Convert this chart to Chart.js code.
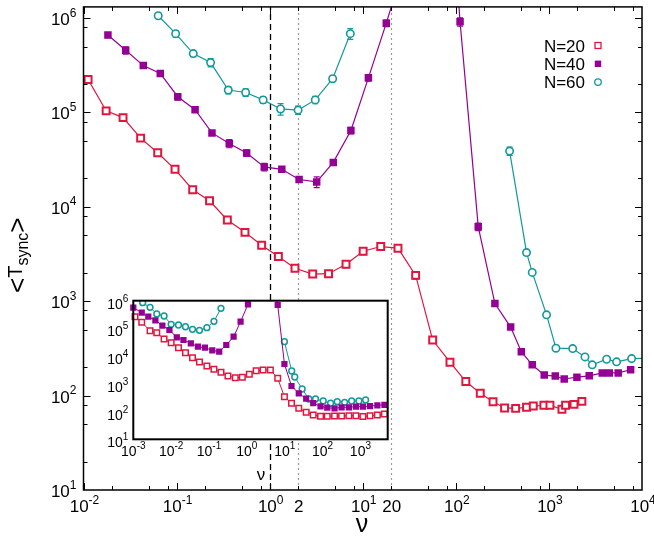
<!DOCTYPE html>
<html>
<head>
<meta charset="utf-8">
<script src="https://cdn.jsdelivr.net/npm/chart.js@4/dist/chart.umd.min.js"></script>
<style>
  html, body { margin: 0; padding: 0; background: #fff; }
  #wrap { position: relative; width: 654px; height: 541px; }
  #wrap canvas { position: absolute; left: 0; top: 0; }
</style>
</head>
<body>
<div id="wrap">
  <canvas id="main" width="654" height="541"></canvas>
  <canvas id="inset" width="654" height="541"></canvas>
</div>
<script>
// ---- main panel data: nu and <T_sync> per system size ----
const nu20 = [0.0112, 0.0175, 0.0266, 0.0411, 0.0627, 0.0962, 0.149, 0.226, 0.351, 0.543, 0.82, 1.24, 1.87, 2.9, 4.29,
  6.61, 10.1, 15.6, 23.9, 37.0, 56.4, 86.5, 128, 183, 251, 334, 439, 575, 679, 883, 1026, 1380, 1510, 1860, 2260];
const t20 = [2.24e5, 1.04e5, 8.83e4, 5.35e4, 3.74e4, 2.50e4, 1.52e4, 1.16e4, 7260, 5370, 3920, 2980, 2240, 1940, 1960,
  2470, 3390, 3800, 3650, 1880, 388, 226, 141, 106, 86.3, 74.0, 73.3, 75.2, 77.6, 78.9, 78.9, 71.6, 78.9, 80.8, 86.9];
const err20 = [0.05, 0.05, 0.05, 0.05, 0.05, 0.05, 0.05, 0.05, 0.05, 0.05, 0.05, 0.05, 0.06, 0.05, 0.05,
  0.08, 0.08, 0.07, 0.07, 0.09, 0.06, 0.05, 0.04, 0.04, 0.04, 0.04, 0.04, 0.04, 0.04, 0.04, 0.04, 0.04, 0.04, 0.04, 0.04];

const nu40 = [0.0183, 0.0284, 0.0439, 0.0668, 0.103, 0.158, 0.240, 0.368, 0.566, 0.875, 1.35, 2.07, 3.20, 4.82, 7.46, 11.5, 17.9, 27.5,
  85, 111, 174, 263, 388, 505, 662, 891, 1170, 1460, 2000, 2710, 3740, 4450, 5550, 7550];
const t40 = [6.62e5, 4.56e5, 3.14e5, 2.59e5, 1.47e5, 1.07e5, 6.08e4, 4.70e4, 3.72e4, 2.65e4, 2.50e4, 1.95e4, 1.84e4, 2.96e4, 6.44e4, 2.33e5, 8.85e5, 3.5e6,
  4e7, 9.14e5, 6170, 946, 532, 292, 212, 165, 161, 150, 157, 162, 174, 174, 174, 188];
const err40 = [0.06, 0.09, 0.06, 0.07, 0.08, 0.06, 0.05, 0.10, 0.08, 0.09, 0.07, 0.07, 0.13, 0.07, 0.08, 0.08, 0.08, 0,
  0, 0.10, 0.09, 0.05, 0.04, 0.04, 0.04, 0.04, 0.03, 0.03, 0.03, 0.03, 0.03, 0.03, 0.03, 0.03];

const nu60a = [0.0635, 0.0977, 0.151, 0.232, 0.359, 0.552, 0.851, 1.31, 2.02, 3.09, 4.75, 7.35];
const t60a = [1.06e6, 6.84e5, 4.21e5, 3.38e5, 1.73e5, 1.63e5, 1.36e5, 1.09e5, 1.06e5, 1.36e5, 2.28e5, 6.84e5];
const err60a = [0.06, 0.08, 0.07, 0.10, 0.09, 0.09, 0.08, 0.14, 0.10, 0.09, 0.07, 0.13];
const nu60b = [378, 575, 662, 944, 1190, 1800, 2440, 2920, 4170, 5330, 7730, 11200];
const t60b = [3.90e4, 3280, 2020, 718, 318, 315, 257, 212, 243, 228, 247, 248];
const err60b = [0.10, 0.06, 0.05, 0.04, 0.04, 0.04, 0.04, 0.04, 0.04, 0.04, 0.04, 0];

// ---- inset data ----
const inNu20 = [0.00111, 0.00167, 0.00277, 0.00417, 0.0065, 0.01, 0.0156, 0.0239, 0.0366, 0.056, 0.0879, 0.135, 0.207, 0.316, 0.494,
  0.759, 1.16, 1.76, 2.68, 4.18, 6.53, 9.82, 15.1, 23.5, 36.9, 56.5, 88.3, 133, 207, 318, 495, 760, 1160, 1790, 2800, 4300];
const inT20 = [2.65e5, 1.66e5, 8.28e4, 7.01e4, 4.15e4, 3.05e4, 2.02e4, 1.33e4, 8790, 6150, 4410, 3350, 2610, 1920, 1670,
  1720, 2210, 2950, 3160, 3160, 1580, 344, 200, 132, 94.2, 75.9, 67.6, 67.6, 69.2, 69.2, 70.8, 70.8, 66.1, 70.8, 75.9, 81.3];
const inNu40 = [0.001, 0.00167, 0.00249, 0.00383, 0.00586, 0.009, 0.0141, 0.0211, 0.0331, 0.0508, 0.0778, 0.122, 0.186, 0.286, 0.446, 0.682, 1.07, 1.7,
  4.27, 6.53, 9.82, 15.1, 23.5, 36.9, 56.5, 88.3, 133, 207, 318, 495, 760, 1160, 1790, 2800, 4300];
const inT40 = [5.6e5, 3.69e5, 2.65e5, 1.96e5, 1.26e5, 8.77e4, 4.79e4, 3.82e4, 2.9e4, 2.19e4, 2.02e4, 1.62e4, 1.45e4, 2.52e4, 5.02e4, 1.75e5, 7.41e5, 3e6,
  1e7, 7.0e5, 5200, 838, 457, 292, 200, 155, 138, 131, 143, 143, 151, 151, 158, 168, 174];
const inNu60a = [0.00177, 0.00277, 0.00417, 0.0065, 0.01, 0.0156, 0.0239, 0.0366, 0.056, 0.0879, 0.135, 0.207];
const inT60a = [8.47e5, 5.75e5, 3.31e5, 2.81e5, 1.4e5, 1.33e5, 1.15e5, 9.27e4, 8.53e4, 1.06e5, 1.8e5, 5.31e5];
const inNu60b = [9.82, 15.3, 18.4, 28.9, 43.3, 65.0, 104, 163, 244, 382, 585, 912, 1370];
const inT60b = [3.32e4, 2910, 1770, 652, 284, 284, 241, 200, 228, 216, 241, 241, 262];

// ---- ticks, reference lines, legend ----
const xTickExp = [-2, -1, 0, 1, 2, 3, 4];
const xExtraTicks = [2, 20];
const yTickExp = [1, 2, 3, 4, 5, 6];
const minorSteps = [2, 5, 8];
const dashedAt = [1];
const dottedAt = [2, 20];
const inXTickExp = [-3, -2, -1, 0, 1, 2, 3];
const inYTickExp = [1, 2, 3, 4, 5, 6];
const legendLabels = ['N=20', 'N=40', 'N=60'];

const RED = '#e0163f', PURPLE = '#940094', TEAL = '#12999a';
const FONT = '"Liberation Sans", Arial, Helvetica, sans-serif';

const pts = (xs, ys) => xs.map((x, i) => ({ x: x, y: ys[i] }));

// "10" with a raised exponent, centred on x or right-aligned to x
function powLabel(ctx, exp, x, y, size, align) {
  const sup = Math.round(size * 0.72);
  ctx.font = size + 'px ' + FONT;
  const wb = ctx.measureText('10').width;
  ctx.font = sup + 'px ' + FONT;
  const ws = ctx.measureText(String(exp)).width;
  const left = align === 'center' ? x - (wb + ws) / 2 : x - wb - ws;
  ctx.textAlign = 'left';
  ctx.textBaseline = 'alphabetic';
  ctx.font = size + 'px ' + FONT;
  ctx.fillText('10', left, y);
  ctx.font = sup + 'px ' + FONT;
  ctx.fillText(String(exp), left + wb, y - size * 0.5);
}

function marker(ctx, style, x, y, color) {
  ctx.save();
  ctx.strokeStyle = color;
  ctx.fillStyle = color;
  ctx.lineWidth = 1.3;
  if (style === 'open') { ctx.strokeRect(x - 3, y - 3, 6, 6); }
  else if (style === 'fill') { ctx.fillRect(x - 3.2, y - 3.2, 6.4, 6.4); }
  else { ctx.beginPath(); ctx.arc(x, y, 3.3, 0, Math.PI * 2); ctx.stroke(); }
  ctx.restore();
}

const mainPlugin = {
  id: 'mainPlugin',
  beforeDraw(chart) {
    const ctx = chart.ctx;
    ctx.save();
    ctx.fillStyle = '#fff';
    ctx.fillRect(0, 0, chart.width, chart.height);
    ctx.restore();
  },
  beforeDatasetsDraw(chart) {
    const { ctx, chartArea: a, scales: { x, y } } = chart;
    ctx.save();
    ctx.lineWidth = 1.3;
    ctx.strokeStyle = '#000';
    ctx.setLineDash([6, 4]);
    dashedAt.forEach(v => {
      const px = Math.round(x.getPixelForValue(v)) + 0.5;
      ctx.beginPath(); ctx.moveTo(px, a.bottom); ctx.lineTo(px, a.top); ctx.stroke();
    });
    ctx.strokeStyle = '#9a9a9a';
    ctx.lineWidth = 1.2;
    ctx.setLineDash([2, 3]);
    dottedAt.forEach(v => {
      const px = Math.round(x.getPixelForValue(v)) + 0.5;
      ctx.beginPath(); ctx.moveTo(px, a.bottom); ctx.lineTo(px, a.top); ctx.stroke();
    });
    ctx.setLineDash([]);

    // error bars
    ctx.beginPath(); ctx.rect(a.left, a.top, a.width, a.height); ctx.clip();
    chart.data.datasets.forEach((ds, i) => {
      if (!ds.errs) return;
      const meta = chart.getDatasetMeta(i);
      ctx.strokeStyle = ds.borderColor;
      ctx.lineWidth = 1.2;
      meta.data.forEach((p, j) => {
        const e = ds.errs[j], v = ds.data[j].y;
        if (!e || v == null) return;
        const y1 = y.getPixelForValue(v * (1 + e));
        const y2 = y.getPixelForValue(v * (1 - e));
        ctx.beginPath();
        ctx.moveTo(p.x, y1); ctx.lineTo(p.x, y2);
        ctx.moveTo(p.x - 3, y1); ctx.lineTo(p.x + 3, y1);
        ctx.moveTo(p.x - 3, y2); ctx.lineTo(p.x + 3, y2);
        ctx.stroke();
      });
    });
    ctx.restore();
  },
  afterDraw(chart) {
    const { ctx, chartArea: a, scales: { x, y } } = chart;
    ctx.save();
    ctx.strokeStyle = '#000';
    ctx.lineWidth = 1.5;
    ctx.strokeRect(a.left, a.top, a.right - a.left, a.bottom - a.top);

    // tick marks on all four sides, pointing inward
    ctx.lineWidth = 1;
    const xTick = (v, len) => {
      const px = Math.round(x.getPixelForValue(v)) + 0.5;
      if (px < a.left || px > a.right) return;
      ctx.beginPath();
      ctx.moveTo(px, a.bottom); ctx.lineTo(px, a.bottom - len);
      ctx.moveTo(px, a.top); ctx.lineTo(px, a.top + len);
      ctx.stroke();
    };
    const yTick = (v, len) => {
      const py = Math.round(y.getPixelForValue(v)) + 0.5;
      if (py < a.top || py > a.bottom) return;
      ctx.beginPath();
      ctx.moveTo(a.left, py); ctx.lineTo(a.left + len, py);
      ctx.moveTo(a.right, py); ctx.lineTo(a.right - len, py);
      ctx.stroke();
    };
    xTickExp.forEach(k => {
      xTick(Math.pow(10, k), 7);
      minorSteps.forEach(m => xTick(m * Math.pow(10, k), 4));
    });
    yTickExp.forEach(k => {
      yTick(Math.pow(10, k), 7);
      minorSteps.forEach(m => yTick(m * Math.pow(10, k), 4));
    });

    // tick labels
    ctx.fillStyle = '#000';
    xTickExp.forEach(k => powLabel(ctx, k, x.getPixelForValue(Math.pow(10, k)) + 1, a.bottom + 22, 17, 'center'));
    ctx.font = '17px ' + FONT;
    ctx.textAlign = 'center';
    xExtraTicks.forEach(v => ctx.fillText(String(v), x.getPixelForValue(v) + 1, a.bottom + 22));
    yTickExp.forEach(k => powLabel(ctx, k, a.left - 7, y.getPixelForValue(Math.pow(10, k)) + 7, 17, 'right'));

    // axis titles
    ctx.font = '25px ' + FONT;
    ctx.textAlign = 'center';
    ctx.fillText('\u03bd', 362, 532);

    ctx.save();
    ctx.translate(22, 293);
    ctx.rotate(-Math.PI / 2);
    ctx.textAlign = 'left';
    let cx = 0;
    ctx.font = '26px ' + FONT; ctx.fillText('<', cx, 4); cx += ctx.measureText('<').width;
    ctx.font = '20px ' + FONT; ctx.fillText('T', cx, 0); cx += ctx.measureText('T').width;
    ctx.font = '16px ' + FONT; ctx.fillText('sync', cx, 6); cx += ctx.measureText('sync').width;
    ctx.font = '26px ' + FONT; ctx.fillText('>', cx, 4);
    ctx.restore();

    // key
    const styles = ['open', 'fill', 'circle'];
    const colors = [RED, PURPLE, TEAL];
    ctx.font = '17px ' + FONT;
    ctx.textAlign = 'right';
    legendLabels.forEach((t, i) => {
      const ly = 45.5 + i * 18.3;
      ctx.fillStyle = '#000';
      ctx.fillText(t, 585, ly + 6);
      marker(ctx, styles[i], 598, ly, colors[i]);
    });
    ctx.restore();
  }
};

const insetPlugin = {
  id: 'insetPlugin',
  beforeDraw(chart) {
    const { ctx, chartArea: a } = chart;
    ctx.save();
    ctx.fillStyle = '#fff';
    ctx.fillRect(a.left, a.top, a.right - a.left, a.bottom - a.top);
    ctx.restore();
  },
  afterDraw(chart) {
    const { ctx, chartArea: a, scales: { x, y } } = chart;
    ctx.save();
    ctx.strokeStyle = '#000';
    ctx.lineWidth = 2;
    ctx.strokeRect(a.left, a.top, a.right - a.left, a.bottom - a.top);
    ctx.fillStyle = '#000';
    inXTickExp.forEach(k => powLabel(ctx, k, x.getPixelForValue(Math.pow(10, k)), a.bottom + 17, 14, 'center'));
    inYTickExp.forEach(k => powLabel(ctx, k, a.left - 5, y.getPixelForValue(Math.pow(10, k)) + 8, 14, 'right'));
    ctx.font = '17px ' + FONT;
    ctx.textAlign = 'center';
    ctx.fillText('\u03bd', 261, 480);
    ctx.restore();
  }
};

const mainStyle = {
  n20: { borderColor: RED, pointBorderColor: RED, pointBackgroundColor: '#fff', pointStyle: 'rect', pointRadius: 4.9, pointBorderWidth: 2 },
  n40: { borderColor: PURPLE, pointBorderColor: PURPLE, pointBackgroundColor: PURPLE, pointStyle: 'rect', pointRadius: 5.3, pointBorderWidth: 0 },
  n60: { borderColor: TEAL, pointBorderColor: TEAL, pointBackgroundColor: '#fff', pointStyle: 'circle', pointRadius: 3.7, pointBorderWidth: 1.6 }
};

new Chart(document.getElementById('main'), {
  type: 'line',
  data: {
    datasets: [
      Object.assign({ data: pts(nu20, t20), errs: err20 }, mainStyle.n20),
      Object.assign({ data: pts(nu40, t40), errs: err40 }, mainStyle.n40),
      Object.assign({ data: pts(nu60a, t60a), errs: err60a }, mainStyle.n60),
      Object.assign({ data: pts(nu60b, t60b), errs: err60b }, mainStyle.n60)
    ]
  },
  options: {
    responsive: false,
    animation: false,
    events: [],
    layout: { padding: { left: 83.5, top: 4, right: 12, bottom: 51 } },
    datasets: { line: { borderWidth: 1.2, tension: 0, clip: 0 } },
    scales: {
      x: { type: 'logarithmic', min: 0.01, max: 1e4, display: false },
      y: { type: 'logarithmic', min: 10, max: 1.315e6, display: false }
    },
    plugins: { legend: { display: false }, tooltip: { enabled: false } }
  },
  plugins: [mainPlugin]
});

const insetStyle = {
  n20: { borderColor: RED, pointBorderColor: RED, pointBackgroundColor: '#fff', pointStyle: 'rect', pointRadius: 3.9, pointBorderWidth: 1.5 },
  n40: { borderColor: PURPLE, pointBorderColor: PURPLE, pointBackgroundColor: PURPLE, pointStyle: 'rect', pointRadius: 4.4, pointBorderWidth: 0 },
  n60: { borderColor: TEAL, pointBorderColor: TEAL, pointBackgroundColor: '#fff', pointStyle: 'circle', pointRadius: 2.9, pointBorderWidth: 1.5 }
};

new Chart(document.getElementById('inset'), {
  type: 'line',
  data: {
    datasets: [
      Object.assign({ data: pts(inNu20, inT20) }, insetStyle.n20),
      Object.assign({ data: pts(inNu40, inT40) }, insetStyle.n40),
      Object.assign({ data: pts(inNu60a, inT60a) }, insetStyle.n60),
      Object.assign({ data: pts(inNu60b, inT60b) }, insetStyle.n60)
    ]
  },
  options: {
    responsive: false,
    animation: false,
    events: [],
    layout: { padding: { left: 133.3, top: 300.7, right: 266.3, bottom: 101.7 } },
    datasets: { line: { borderWidth: 1, tension: 0, clip: { left: 4, top: 0, right: 0, bottom: 0 } } },
    scales: {
      x: { type: 'logarithmic', min: 0.001, max: 5250, display: false },
      y: { type: 'logarithmic', min: 10, max: 1e6, display: false }
    },
    plugins: { legend: { display: false }, tooltip: { enabled: false } }
  },
  plugins: [insetPlugin]
});
</script>
</body>
</html>
